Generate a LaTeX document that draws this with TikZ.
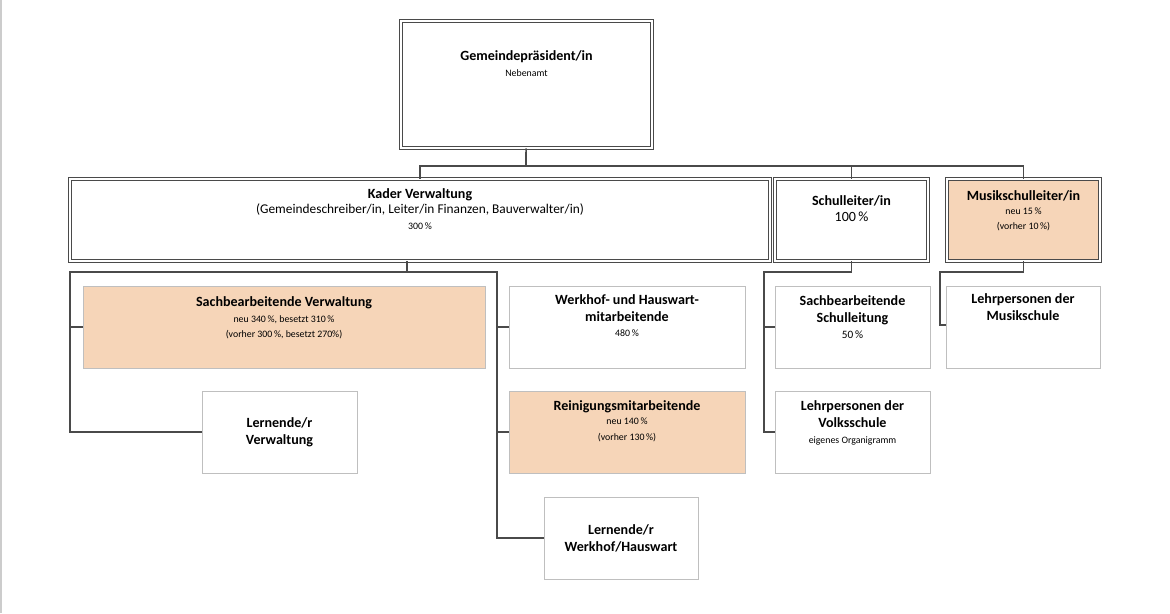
\documentclass[tikz,border=0pt]{standalone}
\usepackage{fontspec}
\setmainfont{Carlito}
\usetikzlibrary{positioning}
\definecolor{peach}{HTML}{F6D5B8}
\definecolor{frame}{HTML}{4A4A4A}
\tikzset{
  box/.style={draw=black!25, line width=0.6pt, fill=white, align=center, inner sep=2pt, font=\fontsize{10}{12}\selectfont\bfseries},
  lead/.style={box, draw=frame, line width=0.7pt, double=white, double distance=1.6pt},
  new/.style={fill=peach},
  link/.style={draw=frame, line width=1.2pt},
  small/.style={font=\fontsize{7}{8.5}\selectfont}
}
\newcommand{\sm}[1]{{\mdseries\fontsize{7}{8.5}\selectfont #1}}
\begin{document}
\begin{tikzpicture}[x=0.025cm, y=-0.025cm]
  \useasboundingbox (0,0) rectangle (1170,613);
  \draw[black!20, line width=0.8pt] (1,0) -- (1,613);

  % top level
  \node[lead, minimum width={251*0.025cm}, minimum height={127*0.025cm}] (praes) at (526.5,84.5)
    {Gemeindepr\"asident/in\\[-1pt]\sm{Nebenamt}\\[18pt]\mbox{}};

  % second level
  \node[lead, minimum width={700*0.025cm}, minimum height={82*0.025cm}] (kader) at (420,220)
    {Kader Verwaltung\\[-1pt]{\mdseries\fontsize{9.5}{12}\selectfont (Gemeindeschreiber/in, Leiter/in Finanzen, Bauverwalter/in)}\\[-1pt]\sm{300\,\%}\\[4pt]\mbox{}};
  \node[lead, minimum width={153*0.025cm}, minimum height={82*0.025cm}] (schul) at (851.5,220)
    {Schulleiter/in\\[-1pt]{\mdseries 100\,\%}\\[4pt]\mbox{}};
  \node[lead, new, minimum width={153*0.025cm}, minimum height={82*0.025cm}] (musik) at (1023.5,220)
    {Musikschulleiter/in\\[-2pt]\sm{neu 15\,\%}\\[-1pt]\sm{(vorher 10\,\%)}\\[2pt]\mbox{}};

  % third level
  \node[box, new, minimum width={402*0.025cm}, minimum height={82*0.025cm}] (sachv) at (284,327)
    {Sachbearbeitende Verwaltung\\[-1pt]\sm{neu 340\,\%, besetzt 310\,\%}\\[-1pt]\sm{(vorher 300\,\%, besetzt 270\%)}\\[2pt]\mbox{}};
  \node[box, minimum width={155*0.025cm}, minimum height={82*0.025cm}] (lernv) at (279.5,432)
    {Lernende/r\\Verwaltung};
  \node[box, minimum width={236*0.025cm}, minimum height={82*0.025cm}] (werk) at (627,327)
    {Werkhof- und Hauswart-\\mitarbeitende\\[-1pt]\sm{480\,\%}\\[4pt]\mbox{}};
  \node[box, new, minimum width={236*0.025cm}, minimum height={82*0.025cm}] (rein) at (627,432)
    {Reinigungsmitarbeitende\\[-2pt]\sm{neu 140\,\%}\\[-1pt]\sm{(vorher 130\,\%)}\\[4pt]\mbox{}};
  \node[box, minimum width={154*0.025cm}, minimum height={82*0.025cm}] (lernw) at (621,538)
    {Lernende/r\\Werkhof/Hauswart};
  \node[box, minimum width={155*0.025cm}, minimum height={82*0.025cm}] (sachs) at (852.5,327)
    {Sachbearbeitende\\Schulleitung\\[-1pt]{\mdseries\fontsize{8}{10}\selectfont 50\,\%}\\[2pt]\mbox{}};
  \node[box, minimum width={155*0.025cm}, minimum height={82*0.025cm}] (volk) at (852.5,432)
    {Lehrpersonen der\\Volksschule\\[-1pt]\sm{eigenes Organigramm}\\[2pt]\mbox{}};
  \node[box, minimum width={154*0.025cm}, minimum height={82*0.025cm}] (lehrm) at (1023,327)
    {Lehrpersonen der\\Musikschule\\[16pt]\mbox{}};

  % connectors
  \coordinate (top) at (526,166);
  \draw[link] (praes) -- (top);
  \draw[link] (top) -| (kader);
  \draw[link] (top) -| (schul);
  \draw[link] (top) -| (musik);

  \coordinate (kv) at (407,272);
  \draw[link] (kader.south -| kv) -- (kv);
  \draw[link] (kv) -| (70,432) -- (lernv.west);
  \draw[link] (70,327) -- (sachv.west);
  \draw[link] (kv) -| (497,538) -- (lernw.west);
  \draw[link] (497,327) -- (werk.west);
  \draw[link] (497,432) -- (rein.west);

  \coordinate (sv) at (764,272);
  \draw[link] (schul.south) |- (sv) -- (764,432) -- (volk.west);
  \draw[link] (764,327) -- (sachs.west);

  \coordinate (mv) at (940,272);
  \draw[link] (musik.south) |- (mv) -- (940,325) -- (lehrm.west |- 940,325);
\end{tikzpicture}
\end{document}
